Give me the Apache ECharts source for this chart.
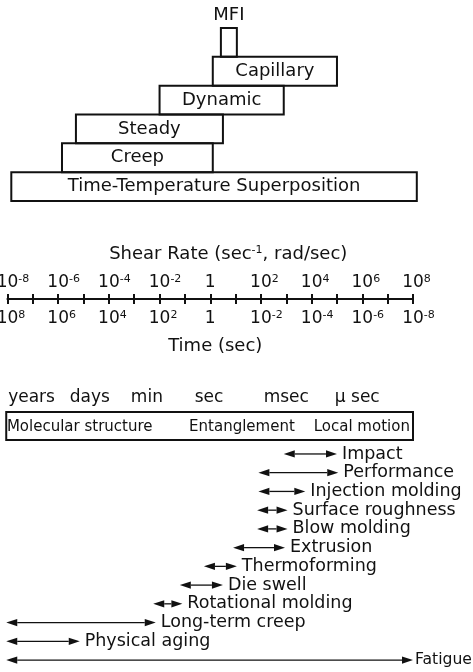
<!DOCTYPE html>
<html>
<head>
    <meta charset="UTF-8">
    <title>Shear rate / time scale</title>
    <script src="https://cdn.jsdelivr.net/npm/echarts@6/dist/echarts.min.js"></script>
    <style>
        html, body { margin: 0; padding: 0; background: #fff; }
        #chart { width: 473px; height: 672px; }
    </style>
</head>
<body>
<div id="chart"></div>
<script>
// all x values are log10(shear rate), i.e. -8 .. 8
var boxNames = ['MFI', 'Capillary', 'Dynamic', 'Steady', 'Creep', 'Time-Temperature Superposition'];
var boxFrom = [0.42, 0.1, -2.0, -5.3, -5.85, -7.85];
var boxTo = [1.05, 5.0, 2.9, 0.5, 0.1, 8.15];

var timeUnits = ['years', 'days', 'min', 'sec', 'msec', 'μ sec'];
var timeUnitPos = [-7.05, -4.75, -2.5, -0.05, 3.0, 5.8];

var regionNames = ['Molecular structure', 'Entanglement', 'Local motion'];
var regionPos = [-5.15, 1.25, 5.98];
var regionSpan = [-8.05, 8.0];

var processNames = ['Impact', 'Performance', 'Injection molding', 'Surface roughness', 'Blow molding',
    'Extrusion', 'Thermoforming', 'Die swell', 'Rotational molding', 'Long-term creep',
    'Physical aging', 'Fatigue'];
var processFrom = [2.9, 1.9, 1.9, 1.85, 1.85, 0.9, -0.25, -1.2, -2.25, -8.05, -8.05, -8.05];
var processTo = [5.0, 5.05, 3.75, 3.05, 3.05, 2.95, 1.05, 0.5, -1.1, -2.15, -5.15, 8.0];

var FONT = '"DejaVu Sans", sans-serif';
var INK = '#111';

var chart = echarts.init(document.getElementById('chart'), null, {renderer: 'canvas'});

// used to shrink a label that would run off the right edge
var measureCtx = document.createElement('canvas').getContext('2d');
function fitSize(text, size, room) {
    measureCtx.font = size + 'px "DejaVu Sans"';
    var w = measureCtx.measureText(text).width;
    return w > room ? Math.floor(size * room / w * 10) / 10 : size;
}

function hiddenX(grid) {
    return {type: 'value', gridIndex: grid, min: -8, max: 8, show: false};
}

function expLabel(e) {
    if (e === 0) return '1';
    return '{gh|' + e + '}10{sup|' + e + '}';
}

var richSup = {
    gh: {fontSize: 11, fontFamily: FONT, color: 'rgba(0,0,0,0)', verticalAlign: 'top', lineHeight: 12},
    sup: {fontSize: 11, fontFamily: FONT, color: INK, verticalAlign: 'top', lineHeight: 12}
};

function makeGrid(top, height) {
    return {left: 7.5, width: 405.5, top: top, height: height, outerBoundsMode: 'none', containLabel: false};
}

var option = {
    animation: false,
    backgroundColor: '#fff',
    grid: [
        makeGrid(28, 173),
        makeGrid(298, 1),
        makeGrid(412, 28),
        makeGrid(444.6, 224.8)
    ],
    xAxis: [
        hiddenX(0),
        {
            type: 'value', gridIndex: 1, position: 'top', min: -8, max: 8, interval: 1,
            axisLine: {show: true, lineStyle: {color: INK, width: 2.2}},
            axisTick: {show: true, length: 5, lineStyle: {color: INK, width: 2}},
            splitLine: {show: false},
            axisLabel: {
                margin: 7, fontSize: 17, fontFamily: FONT, color: INK,
                showMinLabel: true, showMaxLabel: true, hideOverlap: false,
                formatter: function (v) { return v % 2 !== 0 ? '' : expLabel(v); },
                rich: richSup
            },
            name: 'Shear Rate (sec{sup|-1}, rad/sec)',
            nameLocation: 'middle', nameGap: 35,
            nameTextStyle: {fontSize: 18, fontFamily: FONT, color: INK, padding: [0, 0, 0, 36], rich: richSup}
        },
        {
            type: 'value', gridIndex: 1, position: 'bottom', min: -8, max: 8, interval: 1,
            axisLine: {show: false},
            axisTick: {show: true, length: 5, lineStyle: {color: INK, width: 2}},
            splitLine: {show: false},
            axisLabel: {
                margin: 11, fontSize: 17, fontFamily: FONT, color: INK,
                showMinLabel: true, showMaxLabel: true, hideOverlap: false,
                formatter: function (v) { return v % 2 !== 0 ? '' : expLabel(v === 0 ? 0 : -v); },
                rich: richSup
            },
            name: 'Time (sec)',
            nameLocation: 'middle', nameGap: 38,
            nameTextStyle: {fontSize: 18, fontFamily: FONT, color: INK, padding: [0, 0, 0, 10]}
        },
        hiddenX(2),
        hiddenX(3)
    ],
    yAxis: [
        {type: 'value', gridIndex: 0, min: 0, max: 6, inverse: true, show: false},
        {type: 'value', gridIndex: 1, min: 0, max: 1, show: false},
        {type: 'value', gridIndex: 2, min: 0, max: 1, inverse: true, show: false},
        {type: 'category', gridIndex: 3, data: processNames, inverse: true, show: false}
    ],
    series: [
        {
            // stacked rheometer boxes
            type: 'custom', xAxisIndex: 0, yAxisIndex: 0,
            data: boxNames.map(function (n, i) { return [boxFrom[i], boxTo[i], i]; }),
            encode: {x: [0, 1], y: 2},
            clip: false,
            renderItem: function (params, api) {
                var i = params.dataIndex;
                var p0 = api.coord([api.value(0), api.value(2)]);
                var p1 = api.coord([api.value(1), api.value(2) + 1]);
                return {
                    type: 'group',
                    children: [
                        {
                            type: 'rect',
                            shape: {x: p0[0], y: p0[1], width: p1[0] - p0[0], height: p1[1] - p0[1]},
                            style: {fill: 'rgba(0,0,0,0)', stroke: INK, lineWidth: 2}
                        },
                        {
                            type: 'text',
                            style: {
                                text: boxNames[i],
                                x: (p0[0] + p1[0]) / 2,
                                y: i === 0 ? p0[1] - 13 : (p0[1] + p1[1]) / 2,
                                align: 'center', verticalAlign: 'middle',
                                fontSize: 18, fontFamily: FONT, fill: INK
                            }
                        }
                    ]
                };
            }
        },
        {
            // time unit words above the box
            type: 'custom', xAxisIndex: 3, yAxisIndex: 2,
            data: timeUnits.map(function (n, i) { return [timeUnitPos[i], -0.5]; }),
            clip: false,
            renderItem: function (params, api) {
                var p = api.coord([api.value(0), api.value(1)]);
                return {
                    type: 'text',
                    style: {
                        text: timeUnits[params.dataIndex], x: p[0], y: p[1],
                        align: 'center', verticalAlign: 'middle',
                        fontSize: 17, fontFamily: FONT, fill: INK
                    }
                };
            }
        },
        {
            // molecular mechanisms box
            type: 'custom', xAxisIndex: 3, yAxisIndex: 2,
            data: [[regionSpan[0], regionSpan[1]]],
            clip: false,
            renderItem: function (params, api) {
                var p0 = api.coord([api.value(0), 0]);
                var p1 = api.coord([api.value(1), 1]);
                var kids = [{
                    type: 'rect',
                    shape: {x: p0[0], y: p0[1], width: p1[0] - p0[0], height: p1[1] - p0[1]},
                    style: {fill: 'rgba(0,0,0,0)', stroke: INK, lineWidth: 2}
                }];
                regionNames.forEach(function (n, i) {
                    var p = api.coord([regionPos[i], 0.55]);
                    kids.push({
                        type: 'text',
                        style: {
                            text: n, x: p[0], y: p[1], align: 'center', verticalAlign: 'middle',
                            fontSize: 15, fontFamily: FONT, fill: INK
                        }
                    });
                });
                return {type: 'group', children: kids};
            }
        },
        {
            // processes / properties ranges
            type: 'custom', xAxisIndex: 4, yAxisIndex: 3,
            data: processNames.map(function (n, i) { return [processFrom[i], processTo[i], i]; }),
            encode: {x: [0, 1], y: 2},
            clip: false,
            renderItem: function (params, api) {
                var a = api.coord([api.value(0), api.value(2)]);
                var b = api.coord([api.value(1), api.value(2)]);
                var y = a[1], x0 = a[0], x1 = b[0];
                var hl = 11, hh = 3.6;
                var name = processNames[params.dataIndex];
                var tx = x1 + (x1 + 70 > api.getWidth() ? 2 : 5);
                return {
                    type: 'group',
                    children: [
                        {
                            type: 'line',
                            shape: {x1: x0 + hl, y1: y, x2: x1 - hl, y2: y},
                            style: {stroke: INK, lineWidth: 1.3}
                        },
                        {
                            type: 'polygon',
                            shape: {points: [[x0, y], [x0 + hl, y - hh], [x0 + hl, y + hh]]},
                            style: {fill: INK}
                        },
                        {
                            type: 'polygon',
                            shape: {points: [[x1, y], [x1 - hl, y - hh], [x1 - hl, y + hh]]},
                            style: {fill: INK}
                        },
                        {
                            type: 'text',
                            style: {
                                text: name, x: tx, y: y,
                                align: 'left', verticalAlign: 'middle',
                                fontSize: fitSize(name, 17.5, api.getWidth() - tx - 1),
                                fontFamily: FONT, fill: INK
                            }
                        }
                    ]
                };
            }
        }
    ]
};

chart.setOption(option);
</script>
</body>
</html>
